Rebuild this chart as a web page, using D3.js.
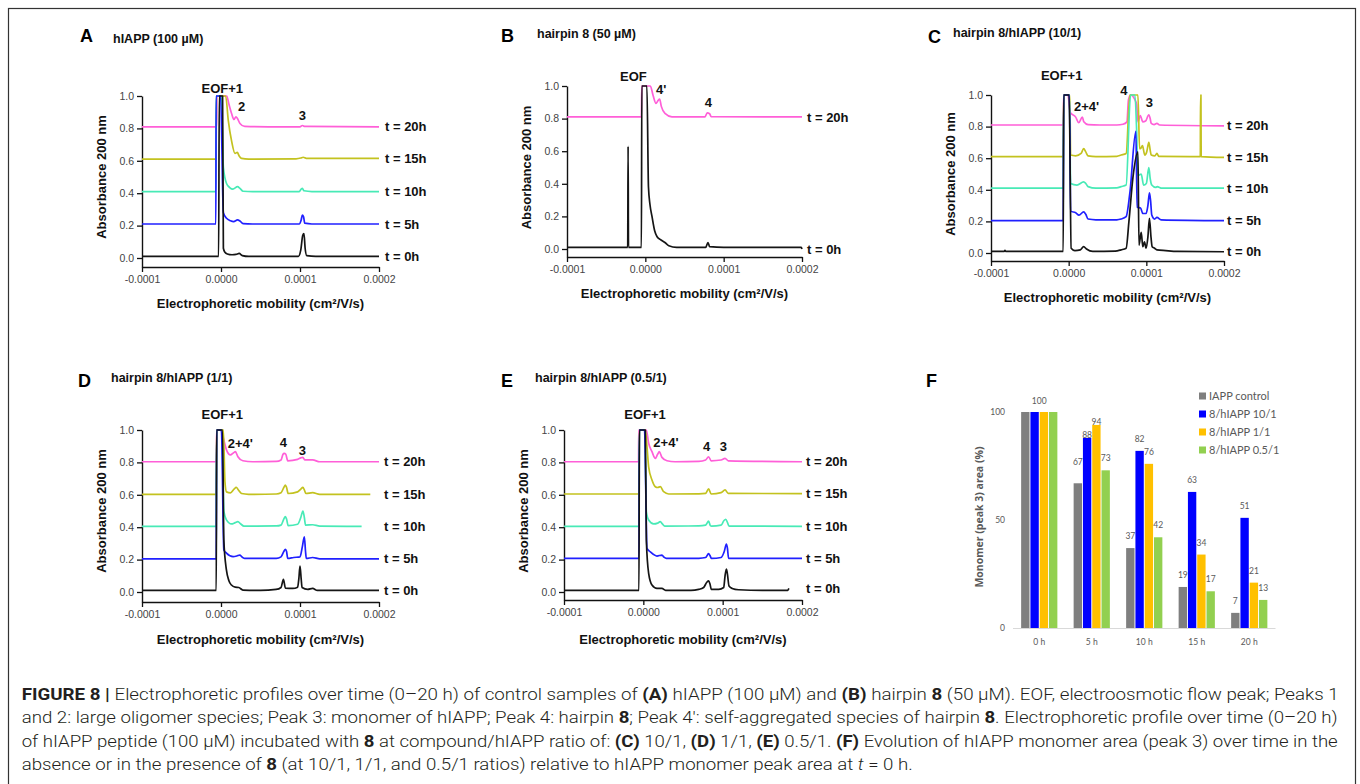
<!DOCTYPE html>
<html>
<head>
<meta charset="utf-8">
<script src="https://cdn.jsdelivr.net/npm/d3@7"></script>
<style>
  body { margin: 0; background: #fff; }
  svg text { font-family: "Liberation Sans", Arial, sans-serif; }
</style>
</head>
<body>
<svg id="fig" width="1360" height="784"></svg>
<script>
// ---- data ----
// mobility stored in units of 1e-6 cm2/V/s, absorbance at 200 nm
var timeLabels = ["t = 0h", "t = 5h", "t = 10h", "t = 15h", "t = 20h"];
var xTickValues = [-100, 0, 100, 200];
var xTickLabels = ["-0.0001", "0.0000", "0.0001", "0.0002"];
var yTickValues = [0, 0.2, 0.4, 0.6, 0.8, 1.0];

// A: hIAPP (100 uM)
var A_t0 = [[-100,0.01],[-40,0.01],[-3,0.01],[-2.2,1.0],[2,1.0],[3,0.06],[5,0.035],[8,0.025],[14,0.02],[19,0.022],[23,0.028],[27,0.015],[35,0.01],[98,0.01],[101,0.05],[103.5,0.14],[105,0.15],[106.5,0.06],[108.5,0.015],[120,0.01],[200,0.01]];
var A_t5 = [[-100,0.21],[-6.5,0.21],[-6.2,1.0],[-0.5,1.0],[3,0.28],[7,0.245],[12,0.23],[16,0.225],[21,0.235],[24,0.228],[28,0.212],[40,0.21],[99,0.21],[101.5,0.235],[103,0.265],[104.5,0.255],[106,0.215],[115,0.21],[200,0.21]];
var A_t10 = [[-100,0.41],[-6.5,0.41],[-6.2,1.0],[0.5,1.0],[3,0.56],[7,0.46],[11,0.435],[15,0.425],[21,0.44],[24,0.43],[28,0.412],[40,0.41],[99,0.41],[101.5,0.425],[103,0.43],[105,0.415],[115,0.41],[200,0.41]];
var A_t15 = [[-100,0.61],[-6.2,0.61],[-5.8,1.0],[5.9,1.0],[9.2,0.85],[13.5,0.72],[17.7,0.646],[20.6,0.652],[23,0.63],[26,0.615],[35,0.61],[95,0.612],[101,0.617],[104,0.622],[108,0.615],[200,0.615]];
var A_t20 = [[-100,0.81],[-5.5,0.81],[-5.2,1.0],[7.2,1.0],[10,0.95],[13.5,0.89],[16.4,0.855],[18.9,0.872],[21,0.86],[24,0.83],[30,0.812],[60,0.81],[100,0.81],[103,0.818],[106,0.812],[200,0.81]];

// B: hairpin 8 (50 uM)
var B_t0 = [[-100,0.01],[-22.5,0.01],[-22,0.63],[-21.5,0.01],[-5,0.01],[-4.5,1.0],[2,1.0],[4,0.38],[6,0.27],[8.5,0.2],[12,0.11],[15,0.075],[20,0.055],[25,0.04],[30,0.02],[40,0.01],[77,0.01],[80,0.04],[82,0.015],[100,0.01],[199,0.01],[200,0.0]];
var B_t20 = [[-100,0.81],[-5,0.81],[-4.5,1.0],[6.4,1.0],[10,0.94],[13.6,0.894],[16.2,0.91],[18.3,0.92],[20.4,0.875],[25.5,0.83],[34,0.81],[76,0.81],[79,0.835],[82,0.83],[84,0.812],[200,0.81]];

// C: hairpin 8/hIAPP (10/1)
var C_t0 = [[-100,0.01],[-83,0.01],[-82,0.016],[-81,0.01],[-7,0.01],[-6.4,1.0],[0.6,1.0],[3.2,0.03],[8,0.015],[15,0.02],[19.3,0.04],[23,0.025],[31,0.01],[60,0.012],[67.5,0.02],[74,0.03],[77.6,0.2],[82.8,0.48],[89.2,0.64],[90.5,0.05],[93.4,0.13],[95.5,0.04],[97.6,0.07],[99.7,0.03],[102,0.1],[104,0.22],[106,0.1],[107.5,0.04],[110.6,0.03],[113.6,0.02],[125,0.015],[140,0.01],[200,0.008]];
var C_t5 = [[-100,0.205],[-7,0.205],[-6.4,1.0],[1,1.0],[2.5,0.265],[9,0.255],[13.3,0.24],[19.3,0.26],[22,0.245],[25,0.215],[35,0.21],[62,0.21],[67.5,0.215],[74,0.23],[78.8,0.38],[86.5,0.77],[88.2,0.29],[92.5,0.285],[95.5,0.25],[99.7,0.25],[102,0.3],[104,0.38],[105.5,0.33],[107,0.24],[110.6,0.215],[113.6,0.225],[119,0.21],[200,0.205]];
var C_t10 = [[-100,0.41],[-7,0.41],[-6.4,1.0],[1,1.0],[2.5,0.44],[10.7,0.43],[19.3,0.45],[22,0.44],[25,0.42],[35,0.41],[62,0.412],[67.5,0.42],[74,0.43],[79.7,1.0],[85.3,1.0],[87.5,0.78],[89.2,0.49],[93.4,0.5],[96.5,0.43],[100,0.44],[103.2,0.54],[105,0.47],[107,0.43],[112,0.415],[114,0.42],[120,0.41],[200,0.41]];
var C_t15 = [[-100,0.61],[-7,0.61],[-6.4,1.0],[1.5,1.0],[2.5,0.62],[9,0.615],[16,0.63],[19.3,0.66],[22,0.64],[25,0.615],[35,0.61],[62,0.612],[67.5,0.62],[74,0.63],[78.8,1.0],[89.2,1.0],[91.3,0.66],[92.5,0.66],[95,0.68],[98,0.62],[100.5,0.64],[103.2,0.70],[105,0.65],[106.3,0.62],[111,0.615],[113.6,0.63],[116,0.612],[169.5,0.61],[169.8,1.0],[170.3,1.0],[170.6,0.61],[200,0.605]];
var C_t20 = [[-100,0.81],[-7,0.81],[-6.4,1.0],[-1,1.0],[2,0.89],[9,0.86],[13,0.825],[17.6,0.86],[19.5,0.83],[25,0.812],[40,0.81],[62,0.81],[70,0.815],[75,0.83],[77,0.97],[79.7,1.0],[85.3,0.97],[87.5,0.94],[89.2,0.83],[92.2,0.87],[95.5,0.83],[99,0.835],[103.2,0.875],[105,0.85],[106.3,0.82],[110,0.812],[113.6,0.82],[117,0.81],[200,0.805]];

// D: hairpin 8/hIAPP (1/1)
var D_t0 = [[-100,0.01],[-6,0.01],[-5.5,1.0],[1.9,1.0],[3.6,0.32],[6.9,0.135],[10,0.07],[13.2,0.043],[18,0.03],[22.5,0.028],[27.7,0.012],[50,0.01],[69.7,0.016],[76,0.028],[79,0.078],[81.5,0.024],[90.8,0.022],[97,0.03],[98.5,0.08],[100,0.16],[101.5,0.08],[102.6,0.028],[109.7,0.016],[116,0.022],[122,0.01],[200,0.01]];
var D_t5 = [[-100,0.205],[-6,0.205],[-5.5,1.0],[0.5,1.0],[3.6,0.259],[6.9,0.24],[15.3,0.218],[20,0.222],[23.7,0.228],[27,0.215],[30,0.207],[70,0.207],[76,0.217],[79.5,0.25],[81.5,0.263],[83,0.25],[84.5,0.207],[92,0.213],[100,0.217],[103,0.28],[105.5,0.341],[107,0.25],[108,0.207],[116,0.213],[125,0.205],[200,0.205]];
var D_t10 = [[-100,0.405],[-6,0.405],[-5.5,1.0],[1,1.0],[3.6,0.5],[6.9,0.445],[13.2,0.42],[18,0.428],[21.4,0.434],[25,0.42],[29,0.407],[70,0.408],[76,0.413],[79.5,0.45],[81.5,0.465],[83,0.45],[85,0.41],[97,0.418],[101,0.46],[103.7,0.5],[105.5,0.46],[107,0.413],[116,0.415],[125,0.407],[178,0.405]];
var D_t15 = [[-100,0.603],[-6,0.603],[-5.5,1.0],[3,1.0],[5,0.68],[7,0.618],[12,0.612],[16.5,0.635],[19.3,0.646],[22,0.63],[26,0.608],[35,0.603],[70,0.605],[76,0.613],[79.5,0.645],[81.5,0.66],[83,0.645],[85,0.608],[97,0.618],[101,0.635],[103.7,0.646],[105.5,0.63],[107.5,0.608],[116,0.613],[125,0.603],[189,0.603]];
var D_t20 = [[-100,0.804],[-6,0.804],[-5.5,1.0],[0,1.0],[0.8,0.99],[3.6,0.938],[6.9,0.877],[11.9,0.846],[16,0.86],[18.2,0.866],[21.4,0.835],[27.7,0.81],[40,0.804],[70,0.806],[76,0.815],[78.5,0.85],[80,0.856],[82,0.85],[84.5,0.81],[97,0.819],[101,0.828],[103.7,0.831],[106,0.815],[116,0.815],[125,0.804],[200,0.804]];

// E: hairpin 8/hIAPP (0.5/1)
var E_t0 = [[-100,0.01],[-5.5,0.01],[-5,1.0],[2.5,1.0],[3.8,0.32],[6.7,0.115],[10.9,0.043],[17.2,0.022],[23.5,0.022],[28,0.01],[60,0.01],[69.7,0.016],[76,0.028],[80,0.06],[82.3,0.069],[84,0.05],[85.7,0.016],[95,0.016],[101.3,0.028],[103,0.1],[104.7,0.142],[106,0.11],[108,0.037],[112,0.022],[120,0.014],[150,0.01],[182,0.01],[183.5,0.022]];
var E_t5 = [[-100,0.207],[-5.5,0.207],[-5,1.0],[1.5,1.0],[4.6,0.269],[8.8,0.248],[17.2,0.222],[23.5,0.228],[26,0.215],[29,0.207],[70,0.208],[78.5,0.213],[82.3,0.237],[84,0.225],[86,0.207],[98,0.213],[102,0.25],[104.7,0.296],[106,0.27],[107.5,0.207],[200,0.207]];
var E_t10 = [[-100,0.405],[-5.5,0.405],[-5,1.0],[2,1.0],[3.8,0.496],[6.7,0.444],[13,0.42],[18,0.425],[21.4,0.434],[24,0.42],[27,0.407],[70,0.408],[78.5,0.413],[82.3,0.437],[84.5,0.41],[86,0.407],[98,0.413],[101.5,0.44],[103.9,0.449],[106,0.43],[108,0.407],[200,0.405]];
var E_t15 = [[-100,0.605],[-5.5,0.605],[-5,1.0],[2.5,1.0],[4.6,0.897],[6.7,0.773],[10.9,0.691],[15.1,0.65],[18,0.645],[21.4,0.65],[25.6,0.619],[32,0.605],[70,0.606],[78.5,0.609],[82.3,0.636],[85.5,0.605],[98,0.613],[103,0.63],[107,0.609],[200,0.607]];
var E_t20 = [[-100,0.804],[-6,0.804],[-5.8,1.0],[3.8,1.0],[6.7,0.918],[10.9,0.866],[15.1,0.825],[18,0.85],[20.2,0.866],[23.5,0.831],[29.8,0.81],[40,0.804],[70,0.806],[78.5,0.815],[82.3,0.835],[85.5,0.81],[98,0.815],[103,0.825],[107,0.81],[200,0.804]];

// F: monomer (peak 3) area, % of t = 0 h
var fCategories = ["0 h", "5 h", "10 h", "15 h", "20 h"];
var fSeriesNames = ["IAPP control", "8/hIAPP 10/1", "8/hIAPP 1/1", "8/hIAPP 0.5/1"];
var fControl = [100, 67, 37, 19, 7];
var fRatio10 = [100, 88, 82, 63, 51];
var fRatio1 = [100, 94, 76, 34, 21];
var fRatio05 = [100, 73, 42, 17, 13];
var fTicks = [0, 50, 100];

// ---- styles ----
var traceColors = ["#151515", "#2020ff", "#48eab6", "#c3c21f", "#ff5fd8"];
var fColors = ["#7f7f7f", "#0000ff", "#ffc000", "#92d050"];
var axisColor = "#111";

var svg = d3.select("#fig");

svg.append("rect")
    .attr("x", 8.5).attr("y", 8.5)
    .attr("width", 1347).attr("height", 820)
    .attr("fill", "none").attr("stroke", "#333").attr("stroke-width", 1.2);

var panels = [
  {id: "A", title: "hIAPP (100 µM)", traces: [A_t0, A_t5, A_t10, A_t15, A_t20],
   xL: 142, xR: 379, y1: 96, y0: 258, axisY: 267, tX: 385, letter: [80, 42], head: [113, 43], xTitleY: 308,
   notes: [["EOF+1", 1.6, 1.02, "middle"], ["2", 26, 0.909, "middle"], ["3", 103, 0.852, "middle"]]},
  {id: "B", title: "hairpin 8 (50 µM)", traces: [B_t0, null, null, null, B_t20],
   xL: 567, xR: 802, y1: 86, y0: 249, axisY: 257, tX: 807, letter: [501, 42], head: [537, 38], xTitleY: 298,
   notes: [["EOF", -15.3, 1.03, "middle"], ["4'", 13.7, 0.951, "start"], ["4", 80.4, 0.869, "middle"]]},
  {id: "C", title: "hairpin 8/hIAPP (10/1)", traces: [C_t0, C_t5, C_t10, C_t15, C_t20],
   xL: 991, xR: 1224, y1: 95, y0: 253, axisY: 261, tX: 1227, letter: [928, 43], head: [953, 37], xTitleY: 302,
   notes: [["EOF+1", -9, 1.095, "middle"], ["2+4'", 6.8, 0.90, "start"], ["4", 71.2, 1.0, "middle"], ["3", 103.8, 0.922, "middle"]]},
  {id: "D", title: "hairpin 8/hIAPP (1/1)", traces: [D_t0, D_t5, D_t10, D_t15, D_t20],
   xL: 142, xR: 379, y1: 430, y0: 592, axisY: 602, tX: 384, letter: [78, 387], head: [111, 382], xTitleY: 644,
   notes: [["EOF+1", 1.6, 1.066, "middle"], ["2+4'", 8.5, 0.887, "start"], ["4", 78.9, 0.897, "middle"], ["3", 102.9, 0.846, "middle"]]},
  {id: "E", title: "hairpin 8/hIAPP (0.5/1)", traces: [E_t0, E_t5, E_t10, E_t15, E_t20],
   xL: 564, xR: 802, y1: 430, y0: 592, axisY: 600, tX: 806, letter: [501, 387], head: [535, 382], xTitleY: 644,
   notes: [["EOF+1", 2.1, 1.066, "middle"], ["2+4'", 12.6, 0.893, "start"], ["4", 79.9, 0.872, "middle"], ["3", 100.8, 0.872, "middle"]]}
];

function drawTracePanel(p) {
  var g = svg.append("g").attr("class", "panel-" + p.id);

  // y axis runs down to the x axis, below zero
  var yMin = -(p.axisY - p.y0) / (p.y0 - p.y1);
  var x = d3.scaleLinear().domain([-100, 200]).range([p.xL, p.xR]);
  var y = d3.scaleLinear().domain([yMin, 1]).range([p.axisY, p.y1]);

  var xAxis = d3.axisBottom(x)
      .tickValues(xTickValues)
      .tickFormat(function(d, i){ return xTickLabels[i]; })
      .tickSize(5).tickSizeOuter(0).tickPadding(4);
  var yAxis = d3.axisLeft(y)
      .tickValues(yTickValues)
      .tickFormat(d3.format(".1f"))
      .tickSize(5).tickSizeOuter(0).tickPadding(3);

  var gx = g.append("g").attr("transform", "translate(0," + p.axisY + ")").call(xAxis);
  var gy = g.append("g").attr("transform", "translate(" + p.xL + ",0)").call(yAxis);
  [gx, gy].forEach(function(a){
    a.select(".domain").attr("stroke", axisColor).attr("stroke-width", 1.4);
    a.selectAll(".tick line").attr("stroke", axisColor).attr("stroke-width", 1.3);
    a.selectAll(".tick text")
        .attr("fill", "#444")
        .style("font-size", "10.5px")
        .style("font-family", "'Liberation Sans', Arial, sans-serif");
  });

  var line = d3.line()
      .x(function(d){ return x(d[0]); })
      .y(function(d){ return y(d[1]); })
      .curve(d3.curveMonotoneX);

  // later time points at the back, t = 0h in front
  for (var i = p.traces.length - 1; i >= 0; i--) {
    var tr = p.traces[i];
    if (!tr) continue;
    g.append("path")
        .datum(tr)
        .attr("d", line)
        .attr("fill", "none")
        .attr("stroke", traceColors[i])
        .attr("stroke-width", 1.7)
        .attr("stroke-linejoin", "round");
    g.append("text")
        .attr("x", p.tX)
        .attr("y", y(tr[tr.length - 1][1]))
        .attr("dy", "0.36em")
        .style("font-size", "13px")
        .style("font-weight", "bold")
        .attr("fill", "#111")
        .text(timeLabels[i]);
  }

  p.notes.forEach(function(n){
    g.append("text")
        .attr("x", x(n[1]))
        .attr("y", y(n[2]))
        .attr("text-anchor", n[3])
        .style("font-size", "13px")
        .style("font-weight", "bold")
        .attr("fill", "#111")
        .text(n[0]);
  });

  // axis titles
  g.append("text")
      .attr("transform", "translate(" + (p.xL - 36) + "," + ((p.y1 + p.y0) / 2) + ") rotate(-90)")
      .attr("text-anchor", "middle")
      .style("font-size", "13px")
      .style("font-weight", "bold")
      .attr("fill", "#111")
      .text("Absorbance 200 nm");
  g.append("text")
      .attr("x", (p.xL + p.xR) / 2)
      .attr("y", p.xTitleY)
      .attr("text-anchor", "middle")
      .style("font-size", "13px")
      .style("font-weight", "bold")
      .attr("fill", "#111")
      .text("Electrophoretic mobility (cm²/V/s)");

  // panel letter and heading
  g.append("text")
      .attr("x", p.letter[0]).attr("y", p.letter[1])
      .style("font-size", "18px").style("font-weight", "bold")
      .attr("fill", "#000")
      .text(p.id);
  g.append("text")
      .attr("x", p.head[0]).attr("y", p.head[1])
      .style("font-size", "12.5px").style("font-weight", "bold")
      .attr("fill", "#111")
      .text(p.title);
}

panels.forEach(drawTracePanel);

// ---- panel F: grouped bars ----
(function(){
  var g = svg.append("g").attr("class", "panel-F");
  var fFont = "Lato, 'Open Sans', sans-serif";
  var seriesValues = [fControl, fRatio10, fRatio1, fRatio05];
  // manual label offsets Excel used in the crowded 5 h group
  var labelNudge = {"5 h": [-9, 9, 9, 0]};

  var x0 = d3.scaleBand().domain(fCategories).range([1013, 1275.5]).paddingInner(0.31).paddingOuter(0.155);
  var x1 = d3.scaleBand().domain(fSeriesNames).range([0, x0.bandwidth()]).paddingInner(0.1);
  var y = d3.scaleLinear().domain([0, 100]).range([628, 412]);

  g.append("text")
      .attr("x", 926).attr("y", 387)
      .style("font-size", "18px").style("font-weight", "bold")
      .attr("fill", "#000")
      .text("F");

  g.append("line")
      .attr("x1", 1013).attr("x2", 1275.5)
      .attr("y1", y(0) + 0.5).attr("y2", y(0) + 0.5)
      .attr("stroke", "#d9d9d9").attr("stroke-width", 1);

  g.selectAll(".ytick").data(fTicks).enter().append("text")
      .attr("x", 1005).attr("y", function(d){ return y(d); })
      .attr("dy", "0.35em")
      .attr("text-anchor", "end")
      .style("font-size", "8.5px").style("font-family", fFont)
      .attr("fill", "#595959")
      .text(function(d){ return d; });

  g.selectAll(".xcat").data(fCategories).enter().append("text")
      .attr("x", function(d){ return x0(d) + x0.bandwidth() / 2; })
      .attr("y", 642).attr("dy", "0.35em")
      .attr("text-anchor", "middle")
      .style("font-size", "8.5px").style("font-family", fFont)
      .attr("fill", "#595959")
      .text(function(d){ return d; });

  fCategories.forEach(function(cat, ci){
    var vals = seriesValues.map(function(s){ return s[ci]; });
    var same = vals.every(function(v){ return v === vals[0]; });
    seriesValues.forEach(function(s, si){
      var bx = x0(cat) + x1(fSeriesNames[si]);
      g.append("rect")
          .attr("x", bx).attr("y", y(s[ci]))
          .attr("width", x1.bandwidth())
          .attr("height", y(0) - y(s[ci]))
          .attr("fill", fColors[si]);
      if (!same) {
        var nudge = labelNudge[cat] ? labelNudge[cat][si] : 0;
        g.append("text")
            .attr("x", bx + x1.bandwidth() / 2)
            .attr("y", y(s[ci]) - 12 + nudge)
            .attr("dy", "0.35em")
            .attr("text-anchor", "middle")
            .style("font-size", "8.5px").style("font-family", fFont)
            .attr("fill", "#595959")
            .text(s[ci]);
      }
    });
    if (same) {
      g.append("text")
          .attr("x", x0(cat) + x0.bandwidth() / 2)
          .attr("y", y(vals[0]) - 11)
          .attr("dy", "0.35em")
          .attr("text-anchor", "middle")
          .style("font-size", "8.5px").style("font-family", fFont)
          .attr("fill", "#595959")
          .text(vals[0]);
    }
  });

  g.append("text")
      .attr("transform", "translate(983,517) rotate(-90)")
      .attr("text-anchor", "middle")
      .style("font-size", "10.5px").style("font-weight", "bold")
      .style("font-family", "'Open Sans', 'Liberation Sans', sans-serif")
      .attr("fill", "#595959")
      .text("Monomer (peak 3) area (%)");

  var leg = g.selectAll(".leg").data(fSeriesNames).enter().append("g")
      .attr("transform", function(d, i){ return "translate(1199," + (396 + i * 18) + ")"; });
  leg.append("rect")
      .attr("x", 0).attr("y", -3.5).attr("width", 7).attr("height", 7)
      .attr("fill", function(d, i){ return fColors[i]; });
  leg.append("text")
      .attr("x", 10).attr("y", 0).attr("dy", "0.35em")
      .style("font-size", "11px").style("font-family", fFont)
      .attr("fill", "#595959")
      .text(function(d){ return d; });
})();

// ---- caption ----
var captionLines = [
  [["FIGURE 8 | ", "b"], ["Electrophoretic profiles over time (0–20 h) of control samples of ", ""], ["(A)", "b"], [" hIAPP (100 μM) and ", ""], ["(B)", "b"], [" hairpin ", ""], ["8", "b"], [" (50 μM). EOF, electroosmotic flow peak; Peaks 1", ""]],
  [["and 2: large oligomer species; Peak 3: monomer of hIAPP; Peak 4: hairpin ", ""], ["8", "b"], ["; Peak 4′: self-aggregated species of hairpin ", ""], ["8", "b"], [". Electrophoretic profile over time (0–20 h)", ""]],
  [["of hIAPP peptide (100 μM) incubated with ", ""], ["8", "b"], [" at compound/hIAPP ratio of: ", ""], ["(C)", "b"], [" 10/1, ", ""], ["(D)", "b"], [" 1/1, ", ""], ["(E)", "b"], [" 0.5/1. ", ""], ["(F)", "b"], [" Evolution of hIAPP monomer area (peak 3) over time in the", ""]],
  [["absence or in the presence of ", ""], ["8", "b"], [" (at 10/1, 1/1, and 0.5/1 ratios) relative to hIAPP monomer peak area at ", ""], ["t", "i"], [" = 0 h.", ""]]
];
var captionY = [700, 723.3, 746.7, 770];
var captionLen = [1317, 1316, 1316, 891];

captionLines.forEach(function(segs, li){
  var t = svg.append("text")
      .attr("x", 21.7).attr("y", captionY[li])
      .attr("textLength", captionLen[li])
      .attr("lengthAdjust", "spacingAndGlyphs")
      .style("font-size", "16px")
      .style("font-family", "'Liberation Sans Narrow', Roboto, 'Liberation Sans', sans-serif")
      .style("white-space", "pre")
      .attr("fill", "#231f20");
  segs.forEach(function(s){
    t.append("tspan")
        .style("font-weight", s[1] === "b" ? "bold" : "300")
        .style("font-style", s[1] === "i" ? "italic" : "normal")
        .text(s[0]);
  });
});
</script>
</body>
</html>
